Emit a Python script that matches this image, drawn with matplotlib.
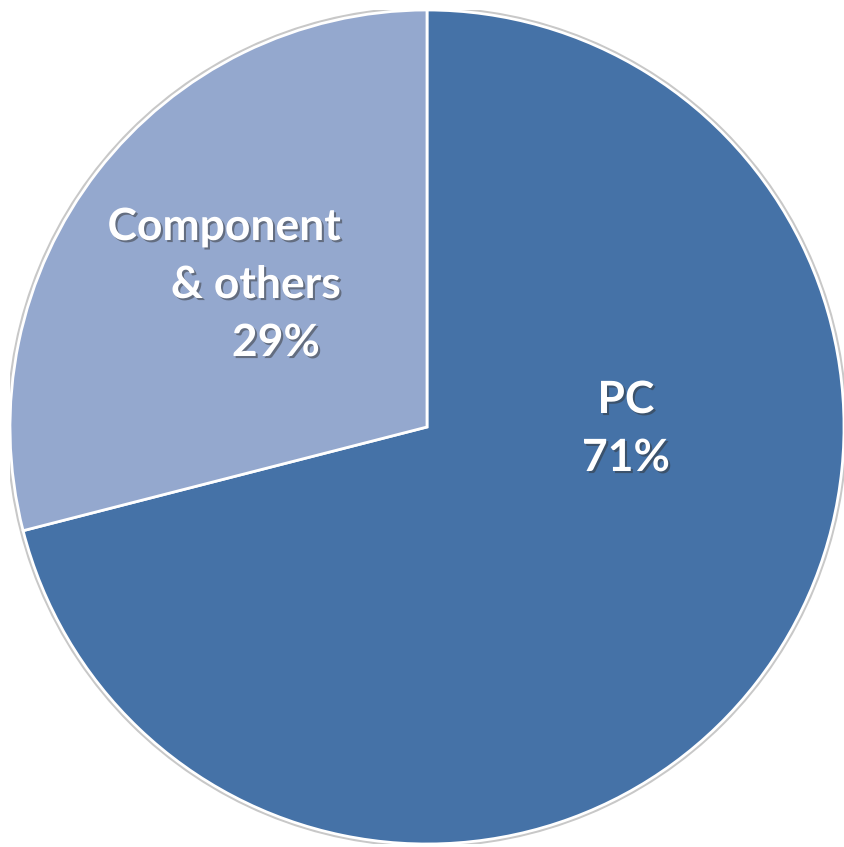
import matplotlib.pyplot as plt
import matplotlib.patheffects as pe
from matplotlib.patches import Circle

categories = ["PC", "Component & others"]
shares = [71, 29]
colors = ["#4572A7", "#94A8CE"]

W, H = 844, 847
cx, cy, r = 427, 427, 417

fig = plt.figure(figsize=(W / 100, H / 100), dpi=100)
ax = fig.add_axes([(cx - r) / W, (H - cy - r) / H, 2 * r / W, 2 * r / H])

# soft grey rim like the original
ax.add_patch(Circle((0, 0), 1.004, facecolor="none", edgecolor="#c8c8c8", lw=2.5, zorder=0))
ax.pie(shares, colors=colors, startangle=90, counterclock=False, radius=1,
       wedgeprops=dict(edgecolor="white", linewidth=2))
ax.set_xlim(-1, 1)
ax.set_ylim(-1, 1)
ax.set_aspect("auto")
ax.axis("off")

shadow = [pe.SimplePatchShadow(offset=(1.5, -1.5), shadow_rgbFace="#333333", alpha=0.5), pe.Normal()]
font = dict(family=["Lato", "DejaVu Sans"], fontsize=32, fontweight="bold", color="white")


def px(x, y):
    return (x - cx) / r, (cy - y) / r


ax.text(*px(626, 400), "PC", ha="center", va="center", path_effects=shadow, **font)
ax.text(*px(626, 458), f"{shares[0]}%", ha="center", va="center", path_effects=shadow, **font)
ax.text(*px(341, 227), "Component", ha="right", va="center", path_effects=shadow, **font)
ax.text(*px(341, 285), "& others", ha="right", va="center", path_effects=shadow, **font)
ax.text(*px(320, 343), f"{shares[1]}%", ha="right", va="center", path_effects=shadow, **font)

fig.savefig("out.png", dpi=100, facecolor="white")
